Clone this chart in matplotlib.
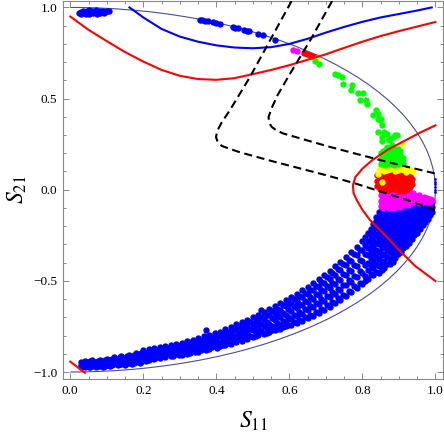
import matplotlib
matplotlib.use('Agg')
import matplotlib.pyplot as plt
from matplotlib.patches import Arc
from matplotlib.ticker import MultipleLocator, FuncFormatter

plt.rcParams['mathtext.fontset'] = 'stix'
plt.rcParams['font.family'] = ['Liberation Serif', 'DejaVu Serif']

# ---------------- data ----------------
# unitarity boundary radius (S11^2 + S21^2 = 1)
boundary_radius = 1.0

blue_curve_x = [0.162, 0.2, 0.25, 0.3, 0.35, 0.4, 0.45, 0.5, 0.55, 0.6, 0.65, 0.7, 0.75, 0.8, 0.85, 0.9, 0.95, 0.99]
blue_curve_y = [1.0, 0.945, 0.882, 0.84, 0.812, 0.792, 0.78, 0.776, 0.782, 0.80, 0.828, 0.862, 0.893, 0.921, 0.945, 0.964, 0.983, 1.0]

red_top_x = [0.0, 0.05, 0.1, 0.15, 0.2, 0.25, 0.3, 0.35, 0.4, 0.45, 0.5, 0.55, 0.6, 0.65, 0.7, 0.75, 0.8, 0.85, 0.9, 0.95, 1.0]
red_top_y = [0.95, 0.877, 0.815, 0.755, 0.703, 0.657, 0.625, 0.607, 0.603, 0.612, 0.634, 0.657, 0.683, 0.713, 0.743, 0.778, 0.812, 0.843, 0.87, 0.895, 0.92]

red_right_x = [1.0, 0.96, 0.918, 0.87, 0.827, 0.8, 0.781, 0.774, 0.776, 0.785, 0.8, 0.821, 0.845, 0.867, 0.9, 0.945, 1.0]
red_right_y = [0.353, 0.315, 0.271, 0.22, 0.162, 0.115, 0.07, 0.025, -0.02, -0.058, -0.11, -0.167, -0.215, -0.259, -0.33, -0.419, -0.501]

red_corner_x = [0.0, 0.04]
red_corner_y = [-0.943, -1.004]

dash_a_x = [0.606, 0.547, 0.492, 0.437, 0.415, 0.403, 0.399, 0.404, 0.415, 0.44, 0.465, 0.556, 0.648, 0.711, 0.781, 0.85, 0.92, 1.0]
dash_a_y = [1.035, 0.819, 0.618, 0.436, 0.37, 0.325, 0.289, 0.26, 0.24, 0.222, 0.205, 0.155, 0.107, 0.074, 0.034, -0.01, -0.055, -0.112]

dash_b_x = [0.717, 0.657, 0.602, 0.568, 0.552, 0.543, 0.545, 0.552, 0.565, 0.584, 0.648, 0.711, 0.781, 0.85, 0.92, 1.0]
dash_b_y = [1.035, 0.819, 0.637, 0.52, 0.45, 0.399, 0.365, 0.344, 0.325, 0.308, 0.271, 0.235, 0.198, 0.162, 0.127, 0.089]

# scatter points: blue
blue_top_pts = [(0.025, 0.968), (0.03, 0.975), (0.035, 0.982), (0.04, 0.97), (0.045, 0.978), (0.05, 0.985),
                (0.055, 0.972), (0.06, 0.98), (0.065, 0.976), (0.07, 0.984), (0.075, 0.973), (0.08, 0.981),
                (0.085, 0.977), (0.09, 0.983), (0.095, 0.975), (0.10, 0.98), (0.03, 0.962), (0.042, 0.965),
                (0.052, 0.963), (0.062, 0.968), (0.072, 0.966), (0.082, 0.97), (0.092, 0.972), (0.105, 0.978)]

blue_rim_pts = [(0.355, 0.932), (0.362, 0.929), (0.37, 0.926), (0.378, 0.923), (0.39, 0.918), (0.40, 0.913),
                (0.41, 0.909), (0.445, 0.893), (0.452, 0.889), (0.458, 0.886), (0.477, 0.876), (0.485, 0.871),
                (0.49, 0.868), (0.513, 0.855), (0.527, 0.847), (0.56, 0.822)]

blue_edge_pts = [(0.999, 0.06), (0.999, 0.045), (0.999, 0.03), (0.999, 0.015), (0.999, 0.0), (0.999, -0.015)]

blue_band_left = {
    0.03: [-0.945, -0.962, -0.975], 0.035: [-0.953, -0.968], 0.04: [-0.94, -0.955, -0.97], 0.045: [-0.947, -0.963],
    0.05: [-0.948, -0.962, -0.975], 0.055: [-0.94, -0.955, -0.97], 0.06: [-0.935, -0.952, -0.968],
    0.065: [-0.944, -0.96], 0.07: [-0.945, -0.96, -0.972], 0.075: [-0.938, -0.953, -0.968],
    0.08: [-0.932, -0.95, -0.966], 0.085: [-0.942, -0.958], 0.09: [-0.94, -0.958, -0.97],
    0.095: [-0.934, -0.95, -0.966], 0.10: [-0.928, -0.946, -0.963], 0.105: [-0.938, -0.955],
    0.11: [-0.936, -0.952, -0.968], 0.115: [-0.928, -0.944, -0.96], 0.12: [-0.92, -0.94, -0.958],
    0.125: [-0.932, -0.95], 0.13: [-0.93, -0.948, -0.964], 0.135: [-0.92, -0.94, -0.958],
    0.14: [-0.912, -0.934, -0.955], 0.145: [-0.925, -0.945], 0.15: [-0.922, -0.945, -0.96],
    0.155: [-0.912, -0.934, -0.952], 0.16: [-0.905, -0.928, -0.95], 0.165: [-0.918, -0.94],
    0.17: [-0.915, -0.938, -0.956], 0.175: [-0.905, -0.928, -0.948], 0.18: [-0.898, -0.92, -0.945],
    0.185: [-0.91, -0.935], 0.19: [-0.91, -0.93, -0.95], 0.195: [-0.898, -0.92, -0.944],
}

blue_band_mid = {
    0.20: [-0.882, -0.905, -0.93], 0.2075: [-0.895, -0.92, -0.94], 0.215: [-0.876, -0.9, -0.915, -0.935],
    0.2225: [-0.888, -0.925], 0.23: [-0.87, -0.895, -0.93], 0.2375: [-0.88, -0.905, -0.918],
    0.245: [-0.864, -0.89, -0.925], 0.2525: [-0.875, -0.9, -0.912], 0.26: [-0.857, -0.885, -0.905, -0.92],
    0.2675: [-0.868, -0.895], 0.275: [-0.85, -0.878, -0.91], 0.2825: [-0.862, -0.892, -0.914],
    0.29: [-0.845, -0.87, -0.9], 0.2975: [-0.855, -0.885, -0.908], 0.305: [-0.84, -0.862, -0.895, -0.905],
    0.3125: [-0.85, -0.878], 0.32: [-0.83, -0.858, -0.888, -0.9], 0.3275: [-0.843, -0.87, -0.895],
    0.335: [-0.822, -0.85, -0.878], 0.3425: [-0.835, -0.862, -0.89], 0.35: [-0.812, -0.84, -0.865, -0.888],
    0.3575: [-0.825, -0.855, -0.878], 0.365: [-0.804, -0.83, -0.87], 0.3725: [-0.77, -0.815, -0.848, -0.88],
    0.38: [-0.796, -0.822, -0.86, -0.875], 0.3875: [-0.808, -0.84, -0.865], 0.395: [-0.788, -0.815, -0.85],
    0.4025: [-0.8, -0.83, -0.866], 0.41: [-0.778, -0.805, -0.84, -0.858], 0.4175: [-0.79, -0.822, -0.85],
    0.425: [-0.766, -0.795, -0.83, -0.852], 0.4325: [-0.78, -0.81, -0.842], 0.44: [-0.752, -0.785, -0.815, -0.845],
    0.4475: [-0.765, -0.8, -0.83], 0.455: [-0.738, -0.77, -0.805, -0.836], 0.4625: [-0.75, -0.785, -0.82],
    0.47: [-0.726, -0.762, -0.795, -0.828], 0.4775: [-0.74, -0.775, -0.81], 0.485: [-0.714, -0.745, -0.785, -0.82],
    0.4925: [-0.725, -0.762, -0.8], 0.50: [-0.7, -0.735, -0.77, -0.808], 0.5075: [-0.712, -0.75, -0.785, -0.8],
    0.515: [-0.686, -0.72, -0.76, -0.798], 0.5225: [-0.66, -0.7, -0.735, -0.775], 0.53: [-0.673, -0.71, -0.748, -0.79],
    0.5375: [-0.685, -0.725, -0.765, -0.785], 0.545: [-0.656, -0.69, -0.735, -0.78],
    0.5525: [-0.668, -0.705, -0.75, -0.772], 0.56: [-0.64, -0.675, -0.715, -0.752, -0.772],
    0.5675: [-0.652, -0.69, -0.73, -0.765], 0.575: [-0.622, -0.66, -0.7, -0.74, -0.762],
    0.5825: [-0.635, -0.675, -0.718, -0.755], 0.59: [-0.605, -0.64, -0.685, -0.725, -0.75],
    0.5975: [-0.618, -0.655, -0.7, -0.74], 0.605: [-0.587, -0.625, -0.665, -0.71, -0.74],
    0.6125: [-0.6, -0.64, -0.685, -0.728], 0.62: [-0.57, -0.608, -0.648, -0.695, -0.73],
    0.6275: [-0.583, -0.625, -0.67, -0.712], 0.635: [-0.552, -0.59, -0.63, -0.68, -0.718],
    0.6425: [-0.565, -0.61, -0.655, -0.7], 0.65: [-0.533, -0.57, -0.615, -0.66, -0.705],
    0.6575: [-0.548, -0.59, -0.638, -0.688], 0.665: [-0.513, -0.552, -0.598, -0.645, -0.692],
    0.6725: [-0.527, -0.572, -0.62, -0.672], 0.68: [-0.49, -0.532, -0.578, -0.628, -0.678],
    0.6875: [-0.505, -0.552, -0.6, -0.655], 0.695: [-0.467, -0.51, -0.558, -0.608, -0.66],
    0.7025: [-0.48, -0.53, -0.582, -0.635], 0.71: [-0.444, -0.488, -0.538, -0.59, -0.642],
    0.7175: [-0.458, -0.51, -0.562, -0.615], 0.725: [-0.42, -0.466, -0.515, -0.57, -0.624],
    0.7325: [-0.435, -0.488, -0.542, -0.595], 0.74: [-0.396, -0.44, -0.495, -0.55, -0.605],
    0.7475: [-0.41, -0.465, -0.52, -0.575], 0.755: [-0.37, -0.415, -0.468, -0.525, -0.585],
    0.7625: [-0.385, -0.44, -0.498, -0.555], 0.77: [-0.342, -0.39, -0.445, -0.505, -0.562],
    0.7775: [-0.355, -0.412, -0.472, -0.53], 0.785: [-0.312, -0.36, -0.418, -0.48, -0.54],
    0.7925: [-0.328, -0.385, -0.448, -0.51], 0.80: [-0.282, -0.33, -0.39, -0.455, -0.515],
    0.8075: [-0.26, -0.305, -0.355, -0.415, -0.475, -0.5],
}

blue_blob = {
    0.815: [-0.24, -0.28, -0.32, -0.36, -0.4, -0.44, -0.49],
    0.8225: [-0.215, -0.255, -0.295, -0.335, -0.375, -0.415, -0.46],
    0.83: [-0.19, -0.23, -0.27, -0.31, -0.35, -0.39, -0.43, -0.47],
    0.8375: [-0.15, -0.17, -0.21, -0.25, -0.29, -0.33, -0.37, -0.41, -0.45],
    0.845: [-0.12, -0.15, -0.18, -0.21, -0.24, -0.27, -0.3, -0.34, -0.38, -0.42, -0.455],
    0.8525: [-0.11, -0.135, -0.165, -0.195, -0.225, -0.255, -0.285, -0.32, -0.36, -0.4, -0.44],
    0.86: [-0.1, -0.13, -0.16, -0.19, -0.22, -0.25, -0.28, -0.31, -0.35, -0.39, -0.43],
    0.8675: [-0.115, -0.145, -0.175, -0.205, -0.235, -0.265, -0.295, -0.33, -0.37, -0.41],
    0.875: [-0.1, -0.13, -0.16, -0.19, -0.22, -0.25, -0.28, -0.31, -0.34, -0.38, -0.41],
    0.8825: [-0.11, -0.14, -0.17, -0.2, -0.23, -0.26, -0.29, -0.325, -0.36, -0.395],
    0.89: [-0.095, -0.125, -0.155, -0.185, -0.215, -0.245, -0.275, -0.305, -0.34, -0.375],
    0.8975: [-0.11, -0.14, -0.17, -0.2, -0.23, -0.26, -0.29, -0.32, -0.355],
    0.905: [-0.09, -0.12, -0.15, -0.18, -0.21, -0.24, -0.27, -0.3, -0.34],
    0.9125: [-0.105, -0.135, -0.165, -0.195, -0.225, -0.255, -0.285, -0.32],
    0.92: [-0.09, -0.12, -0.15, -0.18, -0.21, -0.24, -0.27, -0.31],
    0.9275: [-0.1, -0.13, -0.16, -0.19, -0.22, -0.25, -0.29],
    0.935: [-0.085, -0.115, -0.145, -0.175, -0.205, -0.235, -0.27],
    0.9425: [-0.095, -0.125, -0.155, -0.185, -0.215, -0.25],
    0.95: [-0.08, -0.11, -0.14, -0.17, -0.2, -0.235],
    0.9575: [-0.09, -0.12, -0.15, -0.18, -0.215],
    0.965: [-0.075, -0.105, -0.135, -0.165, -0.195],
    0.9725: [-0.085, -0.115, -0.145, -0.175],
    0.98: [-0.07, -0.1, -0.13, -0.16],
    0.985: [-0.085, -0.11, -0.14],
    0.99: [-0.07, -0.095, -0.12],
}

magenta_cols = {
    0.85: [0.0, -0.03, -0.06, -0.09], 0.865: [0.005, -0.025, -0.055, -0.085], 0.88: [0.0, -0.03, -0.06, -0.09],
    0.895: [0.005, -0.025, -0.055, -0.085], 0.91: [0.0, -0.03, -0.06, -0.085], 0.925: [-0.005, -0.035, -0.065, -0.085],
    0.94: [-0.02, -0.045, -0.07], 0.955: [-0.03, -0.055, -0.075], 0.97: [-0.04, -0.065], 0.985: [-0.05, -0.07],
    0.8575: [-0.015, -0.045, -0.075, -0.1], 0.8725: [-0.01, -0.04, -0.07, -0.1], 0.8875: [-0.015, -0.045, -0.075, -0.1],
    0.9025: [-0.01, -0.04, -0.07, -0.095], 0.9175: [-0.015, -0.045, -0.075], 0.9325: [-0.02, -0.05, -0.075],
    0.9475: [-0.035, -0.06], 0.9625: [-0.045, -0.065], 0.9775: [-0.045, -0.065], 0.992: [-0.055],
}
magenta_extra = [(0.611, 0.768), (0.622, 0.762)]

red_cols = {
    0.84: [0.08, 0.05, 0.02], 0.855: [0.095, 0.065, 0.035, 0.005], 0.87: [0.09, 0.06, 0.03, 0.0],
    0.885: [0.095, 0.065, 0.035, 0.005], 0.90: [0.085, 0.055, 0.025, -0.005], 0.915: [0.08, 0.05, 0.02, -0.005],
    0.93: [0.075, 0.045, 0.015],
    0.8475: [0.065, 0.035, 0.005], 0.8625: [0.08, 0.05, 0.02], 0.8775: [0.075, 0.045, 0.015],
    0.8925: [0.08, 0.05, 0.02], 0.9075: [0.07, 0.04, 0.01], 0.9225: [0.065, 0.035, 0.005], 0.935: [0.06, 0.03],
}
red_extra = [(0.64, 0.748), (0.648, 0.743), (0.656, 0.738), (0.664, 0.733), (0.672, 0.727)]

yellow_pts = [(0.845, 0.11), (0.86, 0.12), (0.86, 0.1), (0.875, 0.115), (0.89, 0.12), (0.89, 0.1), (0.905, 0.115),
              (0.92, 0.11), (0.92, 0.095), (0.935, 0.1), (0.853, 0.043), (0.843, 0.085), (0.908, 0.253),
              (0.675, 0.72), (0.85, 0.125), (0.868, 0.108), (0.882, 0.128), (0.897, 0.108), (0.912, 0.125),
              (0.928, 0.115), (0.94, 0.105)]

green_cols = {
    0.85: [0.14, 0.17, 0.2], 0.862: [0.135, 0.165, 0.195, 0.22], 0.874: [0.14, 0.17, 0.2, 0.225],
    0.886: [0.135, 0.165, 0.195], 0.898: [0.14, 0.17, 0.2, 0.225], 0.91: [0.145, 0.175],
    0.856: [0.155, 0.185, 0.21], 0.868: [0.15, 0.18, 0.21, 0.235], 0.88: [0.155, 0.185, 0.215],
    0.892: [0.15, 0.18, 0.21], 0.904: [0.16, 0.19, 0.215],
}
green_extra = [(0.67, 0.704), (0.681, 0.691), (0.725, 0.637), (0.734, 0.627), (0.743, 0.62), (0.748, 0.582),
               (0.771, 0.573), (0.768, 0.545), (0.787, 0.53), (0.803, 0.53), (0.794, 0.494), (0.81, 0.494),
               (0.814, 0.469), (0.838, 0.436), (0.844, 0.418), (0.828, 0.412), (0.842, 0.39), (0.852, 0.39),
               (0.855, 0.353), (0.844, 0.317), (0.86, 0.317), (0.868, 0.308), (0.853, 0.29), (0.874, 0.28),
               (0.89, 0.299), (0.883, 0.29), (0.872, 0.27), (0.853, 0.267), (0.88, 0.244), (0.89, 0.226),
               (0.849, 0.381), (0.896, 0.299)]

x_ticks_major = [0.0, 0.2, 0.4, 0.6, 0.8, 1.0]
y_ticks_major = [-1.0, -0.5, 0.0, 0.5, 1.0]


def cols_to_xy(*groups):
    xs, ys = [], []
    for g in groups:
        if isinstance(g, dict):
            for x, yl in g.items():
                for y in yl:
                    xs.append(x)
                    ys.append(y)
        else:
            for x, y in g:
                xs.append(x)
                ys.append(y)
    return xs, ys


# ---------------- figure ----------------
fig = plt.figure(figsize=(4.44, 4.32), dpi=100)
ax = fig.add_axes([0.1419, 0.122, 0.856, 0.876])

ax.add_patch(Arc((0, 0), 2 * boundary_radius, 2 * boundary_radius, theta1=-90, theta2=90,
                 color='#4b4b9c', lw=0.8, zorder=1))

ms = 21
bx, by = cols_to_xy(blue_band_left, blue_band_mid, blue_blob, blue_top_pts, blue_rim_pts)
ax.scatter(bx, by, s=ms, color='#0000ff', linewidths=0, zorder=2)
ex, ey = cols_to_xy(blue_edge_pts)
ax.scatter(ex, ey, s=4, color='#0000ff', linewidths=0, zorder=2)
mx, my = cols_to_xy(magenta_cols, magenta_extra)
ax.scatter(mx, my, s=ms, color='#ff00ff', linewidths=0, zorder=3)
rx, ry = cols_to_xy(red_cols, red_extra)
ax.scatter(rx, ry, s=ms, color='#ff0000', linewidths=0, zorder=4)
yx, yy = cols_to_xy(yellow_pts)
ax.scatter(yx, yy, s=ms, color='#ffff00', linewidths=0, zorder=5)
gx, gy = cols_to_xy(green_cols, green_extra)
ax.scatter(gx, gy, s=ms, color='#00ff00', linewidths=0, zorder=5)

ax.plot(blue_curve_x, blue_curve_y, color='#0000ff', lw=1.5, zorder=6)
ax.plot(red_top_x, red_top_y, color='#ff0000', lw=1.5, zorder=6)
ax.plot(red_right_x, red_right_y, color='#ff0000', lw=1.5, zorder=6)
ax.plot(red_corner_x, red_corner_y, color='#ff0000', lw=1.5, zorder=6)
ax.plot(dash_a_x, dash_a_y, color='black', lw=1.5, ls=(0, (3.9, 2.2)), zorder=7)
ax.plot(dash_b_x, dash_b_y, color='black', lw=1.5, ls=(0, (3.9, 2.2)), zorder=7)

ax.set_xlim(-0.02, 1.021)
ax.set_ylim(-1.04, 1.036)

ax.set_xticks(x_ticks_major)
ax.set_yticks(y_ticks_major)
ax.xaxis.set_minor_locator(MultipleLocator(0.05))
ax.yaxis.set_minor_locator(MultipleLocator(0.1))
fmt = FuncFormatter(lambda v, p: ('%.1f' % v).replace('-', '\u2212'))
ax.xaxis.set_major_formatter(fmt)
ax.yaxis.set_major_formatter(fmt)

gray = '#888888'
for sp in ax.spines.values():
    sp.set_color(gray)
    sp.set_linewidth(0.8)
ax.tick_params(which='both', direction='in', top=True, right=True, color=gray, width=0.7,
               labelsize=9.5, labelcolor='black', pad=4)
ax.tick_params(which='major', length=4.5)
ax.tick_params(which='minor', length=2.5)

ax.set_xlabel(r'$S_{11}$', fontsize=17, labelpad=9)
ax.set_ylabel(r'$S_{21}$', fontsize=17, labelpad=3)

fig.savefig('out.png', dpi=100)
